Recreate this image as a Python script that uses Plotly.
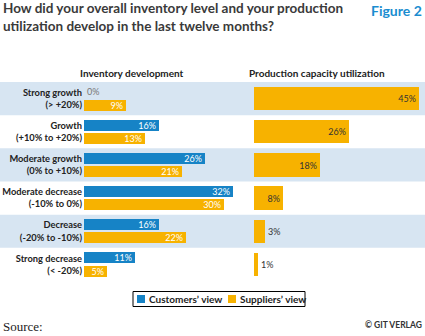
import plotly.graph_objects as go

categories = ["Strong growth<br>(> +20%)", "Growth<br>(+10% to +20%)", "Moderate growth<br>(0% to +10%)",
              "Moderate decrease<br>(-10% to 0%)", "Decrease<br>(-20% to -10%)", "Strong decrease<br>(< -20%)"]
customers_inventory = [0, 16, 26, 32, 16, 11]
suppliers_inventory = [9, 13, 21, 30, 22, 5]
suppliers_capacity = [45, 26, 18, 8, 3, 1]
legend_labels = ["Customers’ view", "Suppliers’ view"]

BLUE = "#1683c6"
ORANGE = "#f7b200"
BAND = "#d7e5f2"
DARK = "#333333"
FONT = "Lato, Roboto, sans-serif"

W, H = 425, 336
def px(x): return x / W
def py(y): return 1 - y / H

cat_labels = ["<b>" + c + "</b>" for c in categories]

fig = go.Figure()

def inv_text(vals):
    pos = ["outside" if v == 0 else "inside" for v in vals]
    col = ["#777777" if v == 0 else "white" for v in vals]
    return pos, col

pos_c, col_c = inv_text(customers_inventory)
fig.add_trace(go.Bar(
    y=cat_labels, x=customers_inventory, orientation="h", name=legend_labels[0], showlegend=False,
    marker=dict(color=BLUE, line=dict(width=0)), width=0.33, offset=-0.365,
    text=[f"{v}%" for v in customers_inventory], textposition=pos_c, constraintext="none",
    insidetextanchor="end", textfont=dict(color=col_c, size=9, family=FONT),
    xaxis="x", yaxis="y", cliponaxis=False, hoverinfo="skip"))

pos_s, col_s = inv_text(suppliers_inventory)
fig.add_trace(go.Bar(
    y=cat_labels, x=suppliers_inventory, orientation="h", name=legend_labels[1], showlegend=False,
    marker=dict(color=ORANGE, line=dict(width=0)), width=0.33, offset=0.035,
    text=[f"{v}%" for v in suppliers_inventory], textposition=pos_s, constraintext="none",
    insidetextanchor="end", textfont=dict(color=col_s, size=9, family=FONT),
    xaxis="x", yaxis="y", cliponaxis=False, hoverinfo="skip"))

cap_pos = ["inside" if v >= 8 else "outside" for v in suppliers_capacity]
fig.add_trace(go.Bar(
    y=cat_labels, x=suppliers_capacity, orientation="h", showlegend=False,
    marker=dict(color=ORANGE, line=dict(width=0)), width=0.7, offset=-0.35,
    text=[f"{v}%" for v in suppliers_capacity], textposition=cap_pos, constraintext="none",
    insidetextanchor="end", textfont=dict(color=DARK, size=9, family=FONT),
    xaxis="x2", yaxis="y2", cliponaxis=False, hoverinfo="skip"))

shapes = []
for i in range(len(categories)):
    if i % 2 == 0:
        shapes.append(dict(type="rect", xref="paper", yref="y", x0=0, x1=1,
                           y0=i - 0.5, y1=i + 0.5, fillcolor=BAND, line=dict(width=0), layer="below"))

# legend box (manual, compact like the reference)
shapes.append(dict(type="rect", xref="paper", yref="paper", x0=px(133), x1=px(305), y0=py(306.5), y1=py(291.5),
                   line=dict(color="black", width=1), fillcolor="white"))
shapes.append(dict(type="rect", xref="paper", yref="paper", x0=px(137), x1=px(145), y0=py(303), y1=py(295),
                   line=dict(width=0), fillcolor=BLUE))
shapes.append(dict(type="rect", xref="paper", yref="paper", x0=px(228), x1=px(236), y0=py(303), y1=py(295),
                   line=dict(width=0), fillcolor=ORANGE))

ydom = [py(281), py(82)]
fig.update_layout(
    width=W, height=H, autosize=False,
    margin=dict(l=0, r=0, t=0, b=0),
    paper_bgcolor="white", plot_bgcolor="rgba(0,0,0,0)",
    font=dict(family=FONT, color=DARK),
    shapes=shapes,
    showlegend=False,
    xaxis=dict(domain=[px(84), px(240)], range=[0, 33.5], visible=False, fixedrange=True),
    xaxis2=dict(domain=[px(254), px(422)], range=[0, 45.8], visible=False, fixedrange=True),
    yaxis=dict(domain=ydom, autorange="reversed", showgrid=False, zeroline=False, ticks="",
               tickfont=dict(size=9.3, color="#222", family=FONT), automargin=False,
               ticklabelstandoff=1, showline=False),
    yaxis2=dict(domain=ydom, autorange="reversed", anchor="x2", matches="y", showticklabels=False,
                showgrid=False, zeroline=False, ticks="", showline=False),
    bargap=0,
    annotations=[
        dict(text="<b>How did your overall inventory level and your production<br>utilization develop in the last twelve months?</b>",
             x=px(1), y=py(0), xref="paper", yref="paper", xanchor="left", yanchor="top", yshift=2,
             align="left", showarrow=False, font=dict(size=13.5, color="#3a3a3a", family=FONT)),
        dict(text="<b>Figure 2</b>", x=px(424), y=py(1), xref="paper", yref="paper",
             xanchor="right", yanchor="top", showarrow=False, yshift=1,
             font=dict(size=14, color="#1a8dd0", family=FONT)),
        dict(text="<b>Inventory development</b>", x=px(132), y=py(73), xref="paper", yref="paper",
             xanchor="center", yanchor="middle", showarrow=False, font=dict(size=10, color="#222", family=FONT)),
        dict(text="<b>Production capacity utilization</b>", x=px(317), y=py(73), xref="paper", yref="paper",
             xanchor="center", yanchor="middle", showarrow=False, font=dict(size=10, color="#222", family=FONT)),
        dict(text="<b>" + legend_labels[0] + "</b>", x=px(147), y=py(299), xref="paper", yref="paper",
             xanchor="left", yanchor="middle", showarrow=False, font=dict(size=10, color="#222", family=FONT)),
        dict(text="<b>" + legend_labels[1] + "</b>", x=px(238), y=py(299), xref="paper", yref="paper",
             xanchor="left", yanchor="middle", showarrow=False, font=dict(size=10, color="#222", family=FONT)),
        dict(text="Source:", x=px(1), y=py(326), xref="paper", yref="paper", xanchor="left", yanchor="middle",
             showarrow=False, font=dict(size=13, color="#222", family="Liberation Serif, DejaVu Serif, serif")),
        dict(text="<b>© GIT VERLAG</b>", x=px(424), y=py(325), xref="paper", yref="paper",
             xanchor="right", yanchor="middle", showarrow=False, font=dict(size=8.5, color=DARK, family=FONT)),
    ],
)

fig.write_html("out.html")
